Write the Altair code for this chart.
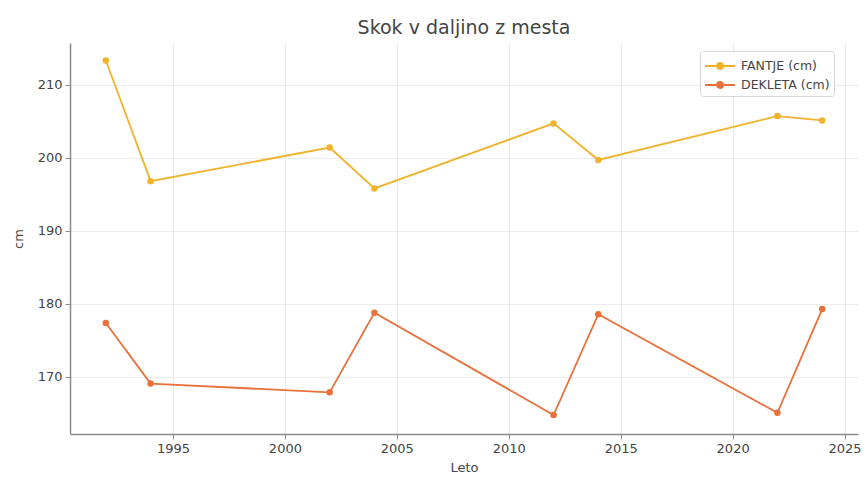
import altair as alt
import pandas as pd

# Standing long jump results by year
leta = [1992, 1994, 2002, 2004, 2012, 2014, 2022, 2024]
fantje = [213.3, 196.8, 201.4, 195.8, 204.7, 199.7, 205.7, 205.1]
dekleta = [177.4, 169.1, 167.9, 178.8, 164.8, 178.6, 165.1, 179.3]

serije = ["FANTJE (cm)", "DEKLETA (cm)"]
barve = ["#F0B22A", "#E8703A"]

df = pd.concat([
    pd.DataFrame({"Leto": leta, "cm": fantje, "serija": serije[0]}),
    pd.DataFrame({"Leto": leta, "cm": dekleta, "serija": serije[1]}),
])

font = "DejaVu Sans"

x = alt.X("Leto:Q", title="Leto",
          scale=alt.Scale(domain=[1990.4, 2025.6], nice=False, zero=False),
          axis=alt.Axis(values=[1995, 2000, 2005, 2010, 2015, 2020, 2025], format="d"))
y = alt.Y("cm:Q", title="cm",
          scale=alt.Scale(domain=[162.2, 215.7], nice=False, zero=False),
          axis=alt.Axis(values=[170, 180, 190, 200, 210]))
# legend glyph: a short line with a dot in its middle
glyph = "M -1 0 L 2 0 M 0.2 0 A 0.3 0.3 0 1 1 0.8 0 A 0.3 0.3 0 1 1 0.2 0"
color = alt.Color("serija:N", title=None,
                  scale=alt.Scale(domain=serije, range=barve),
                  legend=alt.Legend(
                      orient="none", legendX=630, legendY=8,
                      symbolType=glyph,
                      symbolSize=400, symbolStrokeWidth=1.8,
                      labelFont=font, labelFontSize=12.5, labelColor="#444",
                      strokeColor="#d6d6d6", fillColor="white", cornerRadius=3,
                      padding=4, rowPadding=1, labelOffset=15))

line = alt.Chart(df).mark_line(strokeWidth=1.8).encode(x=x, y=y, color=color)
pts = alt.Chart(df).mark_circle(size=42, opacity=1).encode(
    x=x, y=y, color=alt.Color("serija:N", scale=alt.Scale(domain=serije, range=barve), legend=None))

chart = (line + pts).properties(
    width=788, height=391,
    title=alt.Title("Skok v daljino z mesta", font=font, fontSize=19, fontWeight="normal",
                    color="#444", anchor="middle", offset=5),
    autosize=alt.AutoSizeParams(type="none"),
    padding={"left": 70, "top": 43, "right": 8, "bottom": 43},
).configure_view(stroke=None).configure_axis(
    labelFont=font, labelFontSize=13, labelColor="#444",
    titleFont=font, titleFontSize=13, titleColor="#444", titleFontWeight="normal",
    domainColor="#8a8a8a", domainWidth=1.5, tickColor="#8a8a8a", tickSize=5,
    gridColor="#ebebeb", gridWidth=1,
).configure_axisX(titlePadding=6, labelPadding=3).configure_axisY(titlePadding=12, labelPadding=3)

chart.save("out.html", embed_options={"renderer": "svg", "actions": False})
